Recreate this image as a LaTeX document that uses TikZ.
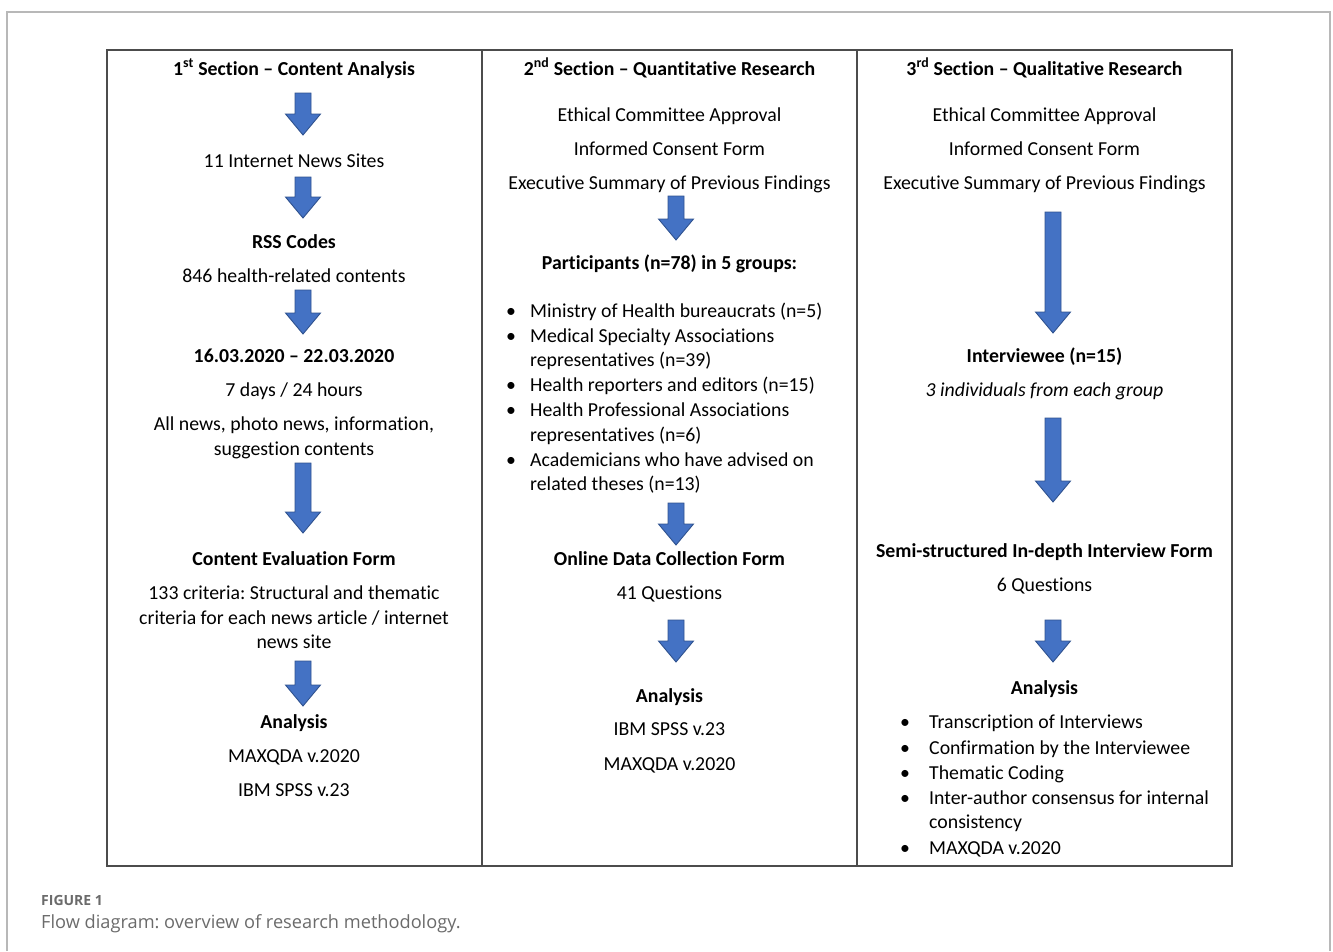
\documentclass[tikz,border=0pt]{standalone}
\usepackage{fontspec}
\setmainfont[Ligatures=NoCommon]{Carlito}
\newfontfamily\capfont{Open Sans}
\usetikzlibrary{calc}
\frenchspacing

\definecolor{arrfill}{HTML}{4472C4}
\definecolor{arrline}{HTML}{2F528F}
\definecolor{capgray}{HTML}{6B6B6B}

\tikzset{
	txt/.style={anchor=base, inner sep=0pt, font=\fontsize{19.8}{24}\selectfont},
	hdr/.style={anchor=base, inner sep=0pt, font=\fontsize{19.8}{24}\selectfont\bfseries},
	itm/.style={anchor=base west, inner sep=0pt, font=\fontsize{19.8}{24}\selectfont},
	blockarrow/.style={fill=arrfill, draw=arrline, line width=0.9pt, line join=miter}
}

% block arrow: centre x, top y, tip y
\newcommand\blockarr[3]{
	\draw[blockarrow] (#1-8,#2) -- (#1+8,#2) -- (#1+8,#3-21) -- (#1+17.5,#3-21)
		-- (#1,#3) -- (#1-17.5,#3-21) -- (#1-8,#3-21) -- cycle;
}

\begin{document}
\begin{tikzpicture}[x=1pt,y=-1pt]
	\useasboundingbox (0,0) rectangle (1333,951);
	
	% page frame and table
	\draw[line width=1.6pt, color=black!28] (7,951) -- (7,12) -- (1330,12) -- (1330,951);
	\draw[line width=1.1pt, color=black!70] (107,50) rectangle (1232,866);
	\draw[line width=1.1pt, color=black!70] (482,50) -- (482,866);
	\draw[line width=1.1pt, color=black!70] (857,50) -- (857,866);
	
	% first section
	\node[hdr] (s1) at (294,75.5) {1\textsuperscript{st} Section -- Content Analysis};
	\blockarr{303}{93}{135}
	\node[txt] (s1a) at (294,167.5) {11 Internet News Sites};
	\blockarr{303}{177}{218}
	\node[hdr] (s1b) at (294,248.5) {RSS Codes};
	\node[txt] (s1c) at (294,282.5) {846 health-related contents};
	\blockarr{303}{290}{334}
	\node[hdr] (s1d) at (294,362.5) {16.03.2020 -- 22.03.2020};
	\node[txt] (s1e) at (294,396.5) {7 days / 24 hours};
	\node[txt] (s1f) at (294,430.5) {All news, photo news, information,};
	\node[txt] (s1g) at (294,455.5) {suggestion contents};
	\blockarr{303}{463}{533}
	\node[hdr] (s1h) at (294,565.5) {Content Evaluation Form};
	\node[txt] (s1i) at (294,599.5) {133 criteria: Structural and thematic};
	\node[txt] (s1j) at (294,624.5) {criteria for each news article / internet};
	\node[txt] (s1k) at (294,648.5) {news site};
	\blockarr{303}{661}{706}
	\node[hdr] (s1l) at (294,728.5) {Analysis};
	\node[txt] (s1m) at (294,762.5) {MAXQDA v.2020};
	\node[txt] (s1n) at (294,796.5) {IBM SPSS v.23};
	
	% second section
	\node[hdr] (s2) at (669.5,75.5) {2\textsuperscript{nd} Section -- Quantitative Research};
	\node[txt] (s2a) at (669.5,121.5) {Ethical Committee Approval};
	\node[txt] (s2b) at (669.5,155.5) {Informed Consent Form};
	\node[txt] (s2c) at (669.5,189.5) {Executive Summary of Previous Findings};
	\blockarr{676}{196}{240}
	\node[hdr] (s2d) at (669.5,269.5) {Participants (n=78) in 5 groups:};
	\foreach \y in {317.5,342.5,391.5,416.5,466.5}
		\node[txt] at (511,\y) {\textbullet};
	\node[itm] (s2e) at (530,317.5) {Ministry of Health bureaucrats (n=5)};
	\node[itm] (s2f) at (530,342.5) {Medical Specialty Associations};
	\node[itm] (s2g) at (530,366.5) {representatives (n=39)};
	\node[itm] (s2h) at (530,391.5) {Health reporters and editors (n=15)};
	\node[itm] (s2i) at (530,416.5) {Health Professional Associations};
	\node[itm] (s2j) at (530,441.5) {representatives (n=6)};
	\node[itm] (s2k) at (530,466.5) {Academicians who have advised on};
	\node[itm] (s2l) at (530,490.5) {related theses (n=13)};
	\blockarr{676}{503}{545}
	\node[hdr] (s2m) at (669.5,565.5) {Online Data Collection Form};
	\node[txt] (s2n) at (669.5,599.5) {41 Questions};
	\blockarr{676}{620}{662}
	\node[hdr] (s2o) at (669.5,702.5) {Analysis};
	\node[txt] (s2p) at (669.5,735.5) {IBM SPSS v.23};
	\node[txt] (s2q) at (669.5,770.5) {MAXQDA v.2020};
	
	% third section
	\node[hdr] (s3) at (1044.5,75.5) {3\textsuperscript{rd} Section -- Qualitative Research};
	\node[txt] (s3a) at (1044.5,121.5) {Ethical Committee Approval};
	\node[txt] (s3b) at (1044.5,155.5) {Informed Consent Form};
	\node[txt] (s3c) at (1044.5,189.5) {Executive Summary of Previous Findings};
	\blockarr{1053}{212}{333}
	\node[hdr] (s3d) at (1044.5,362.5) {Interviewee (n=15)};
	\node[txt] (s3e) at (1044.5,396.5) {\itshape 3 individuals from each group};
	\blockarr{1053}{418}{502}
	\node[hdr] (s3f) at (1044.5,557.5) {Semi-structured In-depth Interview Form};
	\node[txt] (s3g) at (1044.5,591.5) {6 Questions};
	\blockarr{1053}{620}{662}
	\node[hdr] (s3h) at (1044.5,694.5) {Analysis};
	\foreach \y in {728.5,754.5,779.5,804.5,854.5}
		\node[txt] at (905,\y) {\textbullet};
	\node[itm] (s3i) at (929,728.5) {Transcription of Interviews};
	\node[itm] (s3j) at (929,754.5) {Confirmation by the Interviewee};
	\node[itm] (s3k) at (929,779.5) {Thematic Coding};
	\node[itm] (s3l) at (929,804.5) {Inter-author consensus for internal};
	\node[itm] (s3m) at (929,828.5) {consistency};
	\node[itm] (s3n) at (929,854.5) {MAXQDA v.2020};
	
	% caption
	\node[anchor=base west, inner sep=0pt, text=capgray, font=\capfont\fontsize{14}{16}\selectfont\bfseries] (fig) at (41,905) {FIGURE 1};
	\node[anchor=base west, inner sep=0pt, text=capgray, font=\capfont\fontsize{18.2}{20}\selectfont] (cap) at (41,928) {Flow diagram: overview of research methodology.};
\end{tikzpicture}
\end{document}
